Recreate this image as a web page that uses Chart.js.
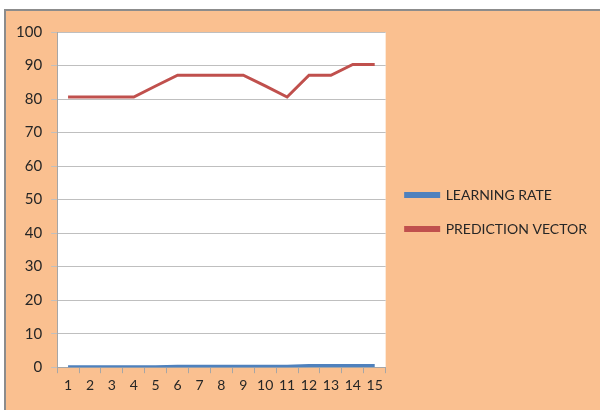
<!DOCTYPE html>
<html>
<head>
<meta charset="utf-8">
<script src="https://cdn.jsdelivr.net/npm/chart.js@4.4.1/dist/chart.umd.min.js"></script>
<style>
html,body{margin:0;padding:0;background:#fff;}
#wrap{position:absolute;left:0;top:0;width:600px;height:410px;}
</style>
</head>
<body>
<div id="wrap"><canvas id="c" width="600" height="410"></canvas></div>
<script>
const categories = ['1','2','3','4','5','6','7','8','9','10','11','12','13','14','15'];
const learningRate = [0.1,0.1,0.1,0.1,0.1,0.3,0.3,0.3,0.3,0.3,0.3,0.5,0.5,0.5,0.5];
const predictionVector = [80.6,80.6,80.6,80.6,83.9,87.1,87.1,87.1,87.1,83.9,80.6,87.1,87.1,90.3,90.3];
const yTicks = [0,10,20,30,40,50,60,70,80,90,100];

const FONT = 'Lato';
const TXT = '#262626';

const bgPlugin = {
  id: 'bg',
  afterLayout(chart) {
    const lg = chart.legend;
    if (lg) { lg.top -= 3; lg.bottom -= 3; }
  },
  beforeDraw(chart) {
    const ctx = chart.ctx;
    ctx.save();
    ctx.fillStyle = '#ffffff';
    ctx.fillRect(0, 0, chart.width, chart.height);
    ctx.fillStyle = '#FAC090';
    ctx.fillRect(5, 10, chart.width - 5, chart.height - 10);
    ctx.strokeStyle = '#8c8c8c';
    ctx.lineWidth = 2;
    ctx.beginPath();
    ctx.moveTo(5, chart.height);
    ctx.lineTo(5, 10);
    ctx.lineTo(chart.width, 10);
    ctx.stroke();
    const a = chart.chartArea;
    ctx.fillStyle = '#ffffff';
    ctx.fillRect(a.left, a.top, a.right - a.left, a.bottom - a.top);
    ctx.restore();
  }
};

new Chart(document.getElementById('c'), {
  type: 'line',
  data: {
    labels: categories,
    datasets: [
      { label: 'LEARNING RATE', data: learningRate, borderColor: '#4F81BD', backgroundColor: '#4F81BD', borderWidth: 3, pointRadius: 0, tension: 0 },
      { label: 'PREDICTION VECTOR', data: predictionVector, borderColor: '#C0504D', backgroundColor: '#C0504D', borderWidth: 3, pointRadius: 0, tension: 0 }
    ]
  },
  options: {
    responsive: false,
    animation: false,
    layout: { padding: { left: 7, top: 32, right: 3, bottom: 12 } },
    plugins: {
      legend: {
        position: 'right',
        maxWidth: 260,
        labels: { boxWidth: 33, boxHeight: 3, padding: 20, color: TXT, font: { family: FONT, size: 14 } }
      },
      tooltip: { enabled: false }
    },
    scales: {
      x: {
        type: 'category',
        offset: true,
        grid: { offset: true, drawOnChartArea: false, drawTicks: true, tickLength: 6, color: '#a6a6a6' },
        border: { display: true, color: '#a6a6a6' },
        ticks: { color: TXT, font: { family: FONT, size: 14 }, padding: 4, maxRotation: 0, autoSkip: false }
      },
      y: {
        min: 0, max: 100,
        afterBuildTicks(axis) { axis.ticks = yTicks.map(v => ({ value: v })); },
        grid: { color: '#bfbfbf', tickLength: 6, drawTicks: true },
        border: { display: true, color: '#a6a6a6' },
        ticks: { color: TXT, font: { family: FONT, size: 15 }, padding: 9 }
      }
    }
  },
  plugins: [bgPlugin]
});
</script>
</body>
</html>
